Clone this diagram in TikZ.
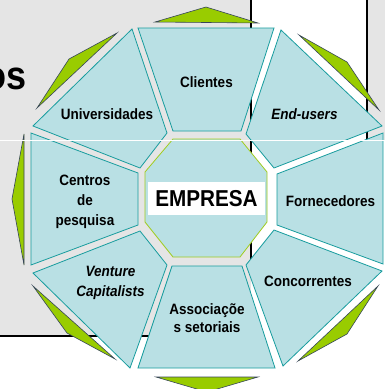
\documentclass[tikz,border=0pt]{standalone}
\usepackage{fontspec}
\newfontfamily\lab{Liberation Sans}[FakeStretch=0.9]
\definecolor{bggray}{RGB}{229,229,229}
\definecolor{segfill}{RGB}{185,224,228}
\definecolor{segline}{RGB}{24,156,158}
\definecolor{octline}{RGB}{160,204,30}
\definecolor{kgreen}{RGB}{153,204,0}
\definecolor{kline}{RGB}{55,70,90}
\begin{document}
\begin{tikzpicture}[x=1pt,y=-1pt,
  seg/.style={fill=segfill, draw=segline, line width=0.8pt, line join=miter},
  kite/.style={fill=kgreen, draw=kline, line width=0.6pt, line join=miter},
  lbl/.style={font=\lab\bfseries\fontsize{15}{19.7}\selectfont, align=center, text=black, inner sep=0pt},
  border/.style={draw=black, line width=1.1pt}]
\useasboundingbox (0,0) rectangle (385,389);
\clip (0,0) rectangle (385,389);
% background
\fill[white] (0,0) rectangle (385,389);
\fill[bggray] (0,0) rectangle (251,336);
\fill[bggray] (367,0) rectangle (385,140);
\draw[border] (251,0) -- (251,276);
\draw[border] (367,0) -- (367,200);
\draw[border] (0,336) -- (251,336);
\node[anchor=base east, inner sep=0pt, font=\lab\bfseries\fontsize{40}{40}\selectfont] (os) at (26.5,89) {os};
% green kites
\draw[kite] (155,22) -- (206,7) -- (258,23) -- cycle;
\draw[kite] (299,35) -- (347,62) -- (379,110) -- cycle;
\draw[kite] (117,33) -- (69,59) -- (37,108) -- cycle;
\draw[kite] (24,134) -- (12,199) -- (24,265) -- cycle;
\draw[kite] (389,134) -- (401,199) -- (389,265) -- cycle;
\draw[kite] (33,286) -- (67,333) -- (115,359) -- cycle;
\draw[kite] (378,286) -- (347,334) -- (298,361) -- cycle;
\draw[kite] (156,377) -- (207,392) -- (258,377) -- cycle;
% segments
\draw[seg] (138,28) -- (274,28) -- (241,131) -- (173,131) -- cycle;
\draw[seg] (281,30) -- (382,126) -- (274,168) -- (246,134) -- cycle;
\draw[seg] (132,29) -- (33,126) -- (140,168) -- (167,133) -- cycle;
\draw[seg] (277,174) -- (383,133) -- (383,264) -- (277,225) -- cycle;
\draw[seg] (31,133) -- (138,173) -- (138,225) -- (31,265) -- cycle;
\draw[seg] (274,230) -- (382,271) -- (283,366) -- (246,265) -- cycle;
\draw[seg] (140,231) -- (167,265) -- (130,368) -- (33,273) -- cycle;
\draw[seg] (172,266) -- (242,266) -- (275,368) -- (138,368) -- cycle;
% centre octagon
\draw[fill=segfill, draw=octline, line width=0.8pt] (173,139) -- (240,139) -- (267,172) -- (267,222) -- (240,257) -- (173,257) -- (145,222) -- (145,172) -- cycle;
\node[fill=white, minimum width=117pt, minimum height=33pt, inner sep=0pt, font=\lab\bfseries\fontsize{23}{23}\selectfont] (empresa) at (206.5,198.3) {EMPRESA};
% labels
\node[lbl, anchor=base] (clientes) at (206.5,87.5) {Clientes};
\node[lbl, anchor=base] (univ) at (107,119) {Universidades};
\node[lbl, anchor=base, font=\lab\bfseries\itshape\fontsize{15}{19.7}\selectfont] (endusers) at (304.5,119) {End-users};
\node[lbl, anchor=base] (forn) at (330.5,206.7) {Fornecedores};
\node[lbl, anchor=base] (conc) at (308,286.7) {Concorrentes};
\node[lbl] (centros) at (85,202) {Centros\\de\\pesquisa};
\node[lbl, font=\lab\bfseries\itshape\fontsize{15}{20}\selectfont] (venture) at (110.5,283) {Venture\\Capitalists};
\node[lbl, font=\lab\bfseries\fontsize{15}{18}\selectfont] (assoc) at (207,318) {Associaçõe\\s setoriais};
% overlay line
\draw[white, line width=0.8pt] (0,140) -- (385,140);
\end{tikzpicture}
\end{document}
